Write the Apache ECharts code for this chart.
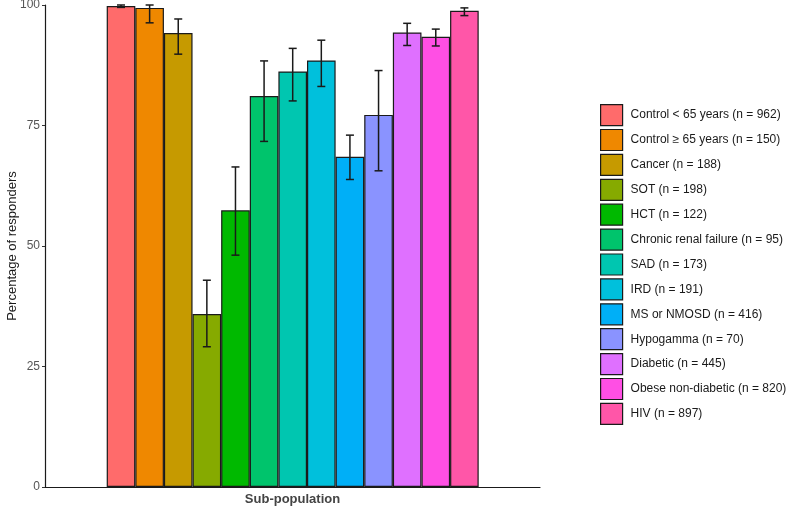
<!DOCTYPE html>
<html>
<head>
<meta charset="utf-8">
<script src="https://cdn.jsdelivr.net/npm/echarts@6/dist/echarts.min.js"></script>
<style>
  html, body { margin: 0; padding: 0; background: #fff; }
  #chart { width: 787px; height: 510px; }
</style>
</head>
<body>
<div id="chart"></div>
<script>
// sub-populations (legend order)
const groups = ['Control < 65 years (n = 962)', 'Control \u2265 65 years (n = 150)', 'Cancer (n = 188)',
  'SOT (n = 198)', 'HCT (n = 122)', 'Chronic renal failure (n = 95)', 'SAD (n = 173)', 'IRD (n = 191)',
  'MS or NMOSD (n = 416)', 'Hypogamma (n = 70)', 'Diabetic (n = 445)', 'Obese non-diabetic (n = 820)', 'HIV (n = 897)'];
const responders = [99.8, 99.4, 94.2, 35.9, 57.4, 81.1, 86.2, 88.5, 68.5, 77.2, 94.3, 93.4, 98.8];
const ciLow = [99.5, 96.3, 89.8, 29.1, 48.1, 71.7, 80.1, 83.1, 63.8, 65.6, 91.6, 91.5, 97.8];
const ciHigh = [100, 100, 97.1, 42.9, 66.4, 88.4, 91.0, 92.7, 73.0, 86.4, 96.2, 95.0, 99.4];
const colors = ['#FF6B6B', '#EF8800', '#C69A00', '#86AA00', '#00B900', '#00C46C', '#00C6B0', '#00C0DC',
  '#00AFF7', '#8A93FF', '#DF70FF', '#FF4FE4', '#FF56A8'];
const yTicks = [0, 25, 50, 75, 100];

const myEChart = echarts.init(document.getElementById('chart'));

const barSeries = groups.map((name, i) => ({
  name: name,
  type: 'bar',
  xAxisIndex: 1,
  yAxisIndex: 1,
  stack: 'all',
  barWidth: '100%',
  data: responders.map((v, j) => (j === i ? v : '-')),
  itemStyle: { color: colors[i], borderColor: '#1a1a1a', borderWidth: 1.2 },
  z: 2
}));

const errData = responders.map((v, i) => [i, ciLow[i], ciHigh[i]]);

const option = {
  animation: false,
  textStyle: { fontFamily: 'Liberation Sans, Arial, sans-serif' },
  legend: {
    orient: 'vertical',
    left: 600,
    top: 104,
    padding: 0,
    itemWidth: 22,
    itemHeight: 21,
    itemGap: 2.7,
    icon: 'rect',
    data: groups,
    itemStyle: { borderColor: '#1a1a1a', borderWidth: 1.2 },
    textStyle: { fontSize: 12, color: '#1a1a1a', padding: [0, 0, 0, 3] }
  },
  grid: [
    { left: 45, width: 495, top: 5, bottom: 23, outerBoundsMode: 'none' },
    { left: 106.7, width: 372, top: 5, bottom: 23, outerBoundsMode: 'none' }
  ],
  xAxis: [
    {
      gridIndex: 0,
      type: 'category',
      data: [''],
      axisLine: { lineStyle: { color: '#1a1a1a', width: 1.2 } },
      axisTick: { show: false },
      axisLabel: { show: false },
      name: 'Sub-population',
      nameLocation: 'middle',
      nameGap: 6,
      nameMoveOverlap: false,
      nameTextStyle: { fontSize: 13, fontWeight: 'bold', color: '#444', verticalAlign: 'top' }
    },
    {
      gridIndex: 1,
      type: 'category',
      data: groups,
      show: false
    }
  ],
  yAxis: [
    {
      gridIndex: 0,
      type: 'value',
      min: 0,
      max: 100,
      interval: 25,
      axisLine: { show: true, lineStyle: { color: '#1a1a1a', width: 1.2 } },
      axisTick: { show: true, length: 3, lineStyle: { color: '#333' } },
      axisLabel: {
        color: '#555',
        fontSize: 12,
        margin: 5,
        formatter: v => (yTicks.includes(v) ? String(v) : '')
      },
      splitLine: { show: false },
      name: 'Percentage of responders',
      nameLocation: 'middle',
      nameGap: 26,
      nameMoveOverlap: false,
      nameTextStyle: { fontSize: 13, color: '#1a1a1a', verticalAlign: 'bottom' }
    },
    {
      gridIndex: 1,
      type: 'value',
      min: 0,
      max: 100,
      show: false
    }
  ],
  series: barSeries.concat([{
    type: 'custom',
    xAxisIndex: 1,
    yAxisIndex: 1,
    z: 5,
    silent: true,
    data: errData,
    renderItem: function (params, api) {
      const x = api.value(0);
      const lo = api.coord([x, api.value(1)]);
      const hi = api.coord([x, api.value(2)]);
      const cap = 4;
      const style = { stroke: '#1a1a1a', lineWidth: 1.5, fill: null };
      return {
        type: 'group',
        children: [
          { type: 'line', shape: { x1: lo[0], y1: lo[1], x2: hi[0], y2: hi[1] }, style: style },
          { type: 'line', shape: { x1: lo[0] - cap, y1: lo[1], x2: lo[0] + cap, y2: lo[1] }, style: style },
          { type: 'line', shape: { x1: hi[0] - cap, y1: hi[1], x2: hi[0] + cap, y2: hi[1] }, style: style }
        ]
      };
    }
  }])
};

myEChart.setOption(option);
window.addEventListener('resize', function () {
  myEChart.resize();
});
</script>
</body>
</html>
